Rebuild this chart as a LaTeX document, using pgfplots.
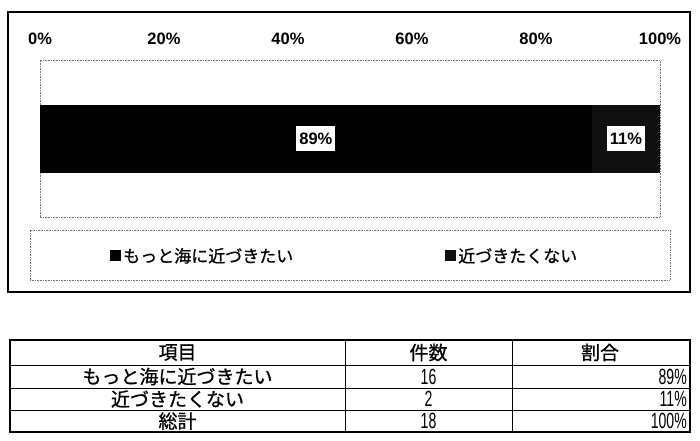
\documentclass[border=0pt]{standalone}
\usepackage{graphicx}
\usepackage{pgfplots}
\pgfplotsset{compat=1.18}
\usepackage{fontspec}
\setmainfont{Noto Sans CJK JP}[FakeBold=0.8]
\newfontfamily\numfont{Liberation Sans}
\newcommand\nar[1]{\scalebox{0.64}[1]{#1}}

\begin{document}
\begin{tikzpicture}[x=1pt,y=1pt]
\useasboundingbox (0pt,0pt) rectangle (700pt,440pt);

% chart frame
\draw[line width=1.6pt] (8pt,148pt) rectangle (690pt,428pt);
% legend box
\draw[densely dotted, black!55, line width=0.6pt] (30pt,160pt) rectangle (670pt,210pt);

\begin{axis}[
  at={(40pt,223pt)}, anchor=south west,
  width=620pt, height=157pt, scale only axis,
  xbar stacked, bar width=68pt,
  xmin=0, xmax=100, ymin=0, ymax=2,
  ytick=\empty,
  xtick={0,20,40,60,80,100},
  xticklabel pos=right,
  xticklabel={\pgfmathprintnumber{\tick}\%},
  /pgf/number format/assume math mode=true,
  major tick length=0pt,
  axis line style={densely dotted, black!55, line width=0.6pt},
  xticklabel style={font=\numfont\bfseries\fontsize{16.5}{16.5}\selectfont, yshift=12pt},
  legend columns=2,
  legend style={draw=none, fill=none, at={(0.113,-0.248)}, anchor=west,
    font=\fontsize{17}{17}\selectfont, inner sep=0pt,
    /tikz/every even column/.append style={column sep=150pt}},
  legend image code/.code={\fill[#1] (0pt,-5.5pt) rectangle (11pt,5.5pt);},
]
\addplot[fill=black, draw=none] coordinates {(89,1)};
\addplot[fill=black!94, draw=none] coordinates {(11,1)};
\legend{もっと海に近づきたい, 近づきたくない}
\coordinate (lab1) at (axis cs:44.5,1);
\coordinate (lab2) at (axis cs:94.5,1);
\end{axis}
\node[fill=white, inner xsep=3pt, inner ysep=7pt, font=\numfont\bfseries\fontsize{16.5}{16.5}\selectfont] at (lab1) {89\%};
\node[fill=white, inner xsep=3pt, inner ysep=7pt, font=\numfont\bfseries\fontsize{16.5}{16.5}\selectfont] at (lab2) {11\%};

% table
\draw[line width=1.2pt] (10pt,8pt) rectangle (690pt,100pt);
\draw[line width=0.8pt] (10pt,75pt) -- (690pt,75pt) (10pt,52pt) -- (690pt,52pt) (10pt,30pt) -- (690pt,30pt);
\draw[line width=0.8pt] (345pt,8pt) -- (345pt,100pt) (512pt,8pt) -- (512pt,100pt);
\begin{scope}[every node/.style={font=\fontsize{19}{19}\selectfont, inner sep=0pt}]
\node at (177.5pt,87.5pt) {項目};
\node at (428.5pt,87.5pt) {件数};
\node at (600pt,87.5pt) {割合};
\node at (177.5pt,63.5pt) {もっと海に近づきたい};
\node at (177.5pt,41pt) {近づきたくない};
\node at (177.5pt,19pt) {総計};
\node[font=\numfont\fontsize{22}{22}\selectfont] at (428.5pt,63.5pt) {\nar{16}};
\node[font=\numfont\fontsize{22}{22}\selectfont] at (428.5pt,41pt) {\nar{2}};
\node[font=\numfont\fontsize{22}{22}\selectfont] at (428.5pt,19pt) {\nar{18}};
\node[anchor=east, font=\numfont\fontsize{22}{22}\selectfont] at (687pt,63.5pt) {\nar{89\%}};
\node[anchor=east, font=\numfont\fontsize{22}{22}\selectfont] at (687pt,41pt) {\nar{11\%}};
\node[anchor=east, font=\numfont\fontsize{22}{22}\selectfont] at (687pt,19pt) {\nar{100\%}};
\end{scope}
\end{tikzpicture}
\end{document}
